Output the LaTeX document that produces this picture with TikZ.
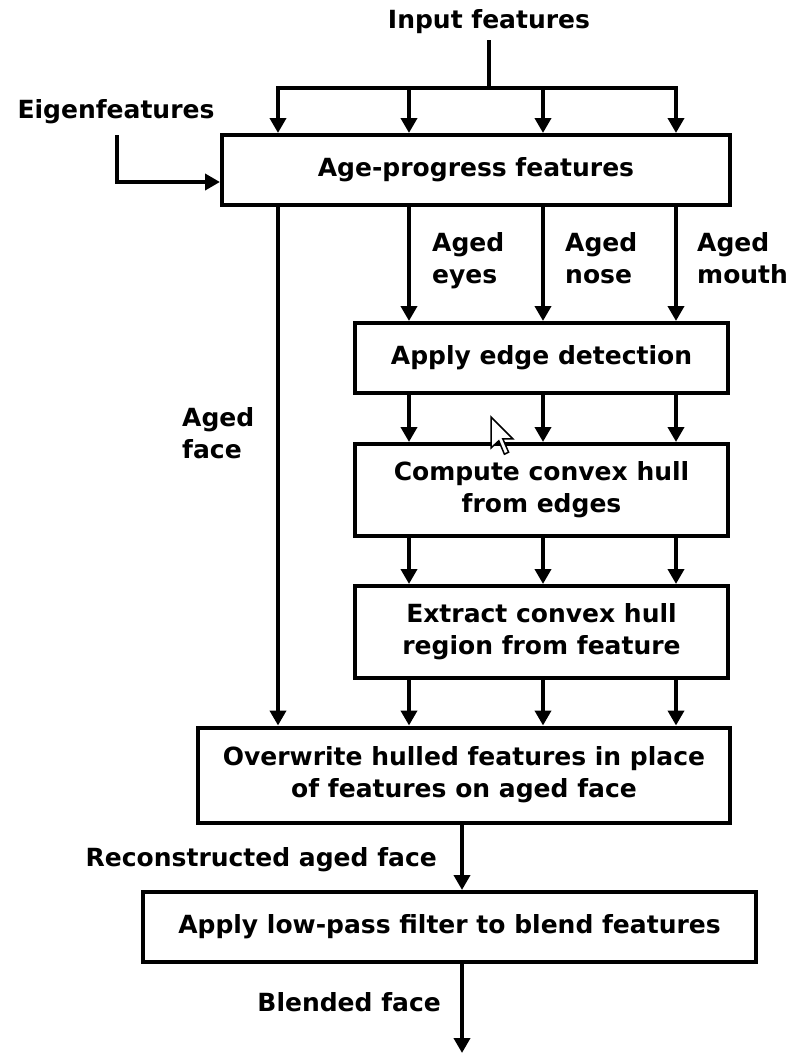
\documentclass[tikz,border=0pt]{standalone}
\usepackage{fontspec}
\setmainfont{DejaVu Sans}
\usetikzlibrary{arrows.meta,calc}
\newcommand\lblfont{\fontsize{25}{32}\selectfont\bfseries}
\begin{document}
\begin{tikzpicture}[x=1pt,y=-1pt,
  proc/.style={draw, rectangle, line width=4pt, align=center, font=\lblfont, inner sep=0pt},
  lbl/.style={align=left, font=\lblfont, inner sep=0pt},
  wire/.style={line width=4pt, line join=miter},
  conn/.style={wire, -{Triangle[width=16pt,length=15pt]}}]
\useasboundingbox (0,0) rectangle (796,1053);

% process boxes
\node[proc, minimum width=508pt, minimum height=70pt] (b1) at (476,170) {Age-progress features};
\node[proc, minimum width=373pt, minimum height=70pt] (b2) at (541.5,358) {Apply edge detection};
\node[proc, minimum width=373pt, minimum height=92pt] (b3) at (541.5,490) {Compute convex hull\\from edges};
\node[proc, minimum width=373pt, minimum height=92pt] (b4) at (541.5,632) {Extract convex hull\\region from feature};
\node[proc, minimum width=532pt, minimum height=95pt] (b5) at (464,775) {Overwrite hulled features in place\\of features on aged face};
\node[proc, minimum width=613pt, minimum height=70pt] (b6) at (449.5,927) {Apply low-pass filter to blend features};

% free-standing labels
\node[lbl] (inp) at (489,22) {Input features};
\node[lbl] (eig) at (116,112) {Eigenfeatures};
\node[lbl, anchor=north west] (leyes) at (432,232) {Aged\\eyes};
\node[lbl, anchor=north west] (lnose) at (565,232) {Aged\\nose};
\node[lbl, anchor=north west] (lmouth) at (697,232) {Aged\\mouth};
\node[lbl, anchor=north west] (lface) at (182,407) {Aged\\face};
\node[lbl, anchor=east] (lrec) at (437,860) {Reconstructed aged face};
\node[lbl, anchor=east] (lbl) at (441,1002) {Blended face};

% column positions
\coordinate (split) at (489,88);
\coordinate (c1) at (278,88);
\coordinate (c2) at (409,88);
\coordinate (c3) at (543,88);
\coordinate (c4) at (676,88);
\coordinate (out) at (462,1053);

% input fan-out
\draw[wire] (489,40) -- (split);
\draw[conn] (split) -| (c1 |- b1.north);
\draw[conn] (split) -| (c4 |- b1.north);
\draw[conn] (c2) -- (c2 |- b1.north);
\draw[conn] (c3) -- (c3 |- b1.north);

% eigenfeatures into the first box
\draw[conn] (117,135) |- ([yshift=-12pt]b1.west);

% aged face bypass and the three feature columns
\draw[conn] (c1 |- b1.south) -- (c1 |- b5.north);
\foreach \c in {c2,c3,c4} {
  \draw[conn] (\c |- b1.south) -- (\c |- b2.north);
  \draw[conn] (\c |- b2.south) -- (\c |- b3.north);
  \draw[conn] (\c |- b3.south) -- (\c |- b4.north);
  \draw[conn] (\c |- b4.south) -- (\c |- b5.north);
}

% output chain
\draw[conn] (b5.south -| out) -- (b6.north -| out);
\draw[conn] (b6.south -| out) -- (out);

% mouse pointer
\draw[fill=white, line width=1.5pt, line join=miter]
  (491,417) -- ++(0,31) -- ++(7.8,-7.2) -- ++(5.6,13.4) -- ++(4.2,-2) -- ++(-5.8,-13.4) -- ++(10,0) -- cycle;
\end{tikzpicture}
\end{document}
